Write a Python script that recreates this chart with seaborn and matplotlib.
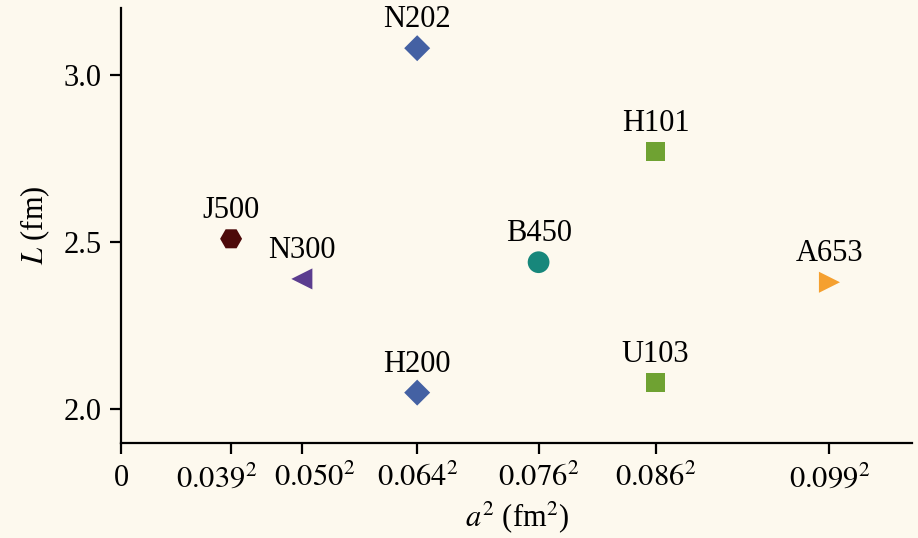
import pandas as pd
import matplotlib.pyplot as plt
import matplotlib.transforms as mtransforms
import seaborn as sns

# ensembles, lattice spacing a (fm) and box size L (fm)
ensembles = ["J500", "N300", "N202", "H200", "B450", "H101", "U103", "A653"]
spacing = [0.039, 0.050, 0.064, 0.064, 0.076, 0.086, 0.086, 0.099]
box_L = [2.51, 2.39, 3.08, 2.05, 2.44, 2.77, 2.08, 2.38]

tick_a = [0.039, 0.050, 0.064, 0.076, 0.086, 0.099]

colors = ["#4d0a0a", "#5b3d8f", "#4461a3", "#4461a3", "#17877b", "#6fa232", "#6fa232", "#f5a02f"]
markers = ["H", "<", "D", "D", "o", "s", "s", ">"]
sizes = [250, 230, 175, 175, 245, 190, 190, 230]

df = pd.DataFrame({"ens": ensembles, "a2": [a**2 for a in spacing], "L": box_L})

bg = "#fdf9ee"
sns.set_style("ticks")
plt.rcParams["font.family"] = ["Liberation Serif", "DejaVu Serif"]
plt.rcParams["mathtext.fontset"] = "stix"
plt.rcParams["text.color"] = "black"

fs = 22

fig = plt.figure(figsize=(9.18, 5.38), dpi=100, facecolor=bg)
ax = fig.add_axes([0.132, 0.177, 0.862, 0.808])
ax.set_facecolor(bg)

sns.scatterplot(data=df, x="a2", y="L", hue="ens", style="ens", size="ens",
                palette=dict(zip(ensembles, colors)),
                markers=dict(zip(ensembles, markers)),
                sizes=dict(zip(ensembles, sizes)),
                linewidth=0, legend=False, ax=ax, zorder=3)

for _, r in df.iterrows():
    ax.annotate(r["ens"], (r["a2"], r["L"]), xytext=(0, 10), textcoords="offset points",
                ha="center", va="bottom", fontsize=fs, color="black")

ax.set_xlim(0, 0.01095)
ax.set_ylim(1.9, 3.2)
ax.set_xticks([0] + [a**2 for a in tick_a])
ax.set_xticklabels(["0"] + [rf"${a:.3f}^2$" for a in tick_a])
ax.set_yticks([2.0, 2.5, 3.0])
ax.set_yticklabels(["2.0", "2.5", "3.0"])
ax.tick_params(labelsize=fs, length=8, width=1.6, color="black", labelcolor="black")
ax.tick_params(axis="x", pad=7)
ax.tick_params(axis="y", pad=6)

# the two closest labels are nudged apart so they don't collide
labels = ax.get_xticklabels()
for lab, dx in [(labels[1], -14), (labels[2], 13)]:
    lab.set_transform(lab.get_transform() + mtransforms.ScaledTranslation(dx / 100, 0, fig.dpi_scale_trans))

ax.set_xlabel(r"$a^2$ (fm$^2$)", fontsize=fs, labelpad=4, color="black")
ax.set_ylabel(r"$L$ (fm)", fontsize=fs, labelpad=8, color="black")

sns.despine(ax=ax)
for s in ["left", "bottom"]:
    ax.spines[s].set_color("black")
    ax.spines[s].set_linewidth(1.6)

fig.savefig("out.png", dpi=100, facecolor=bg)
